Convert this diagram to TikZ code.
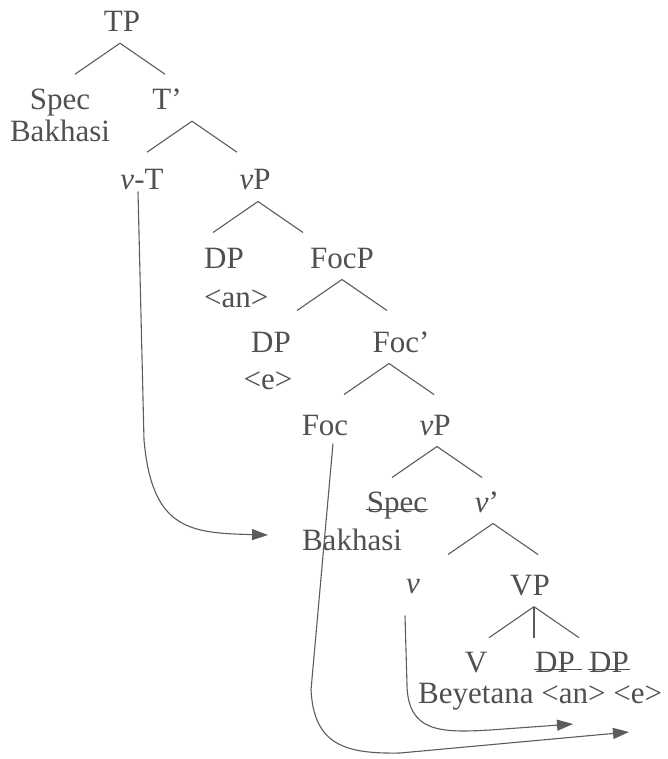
\documentclass[tikz,border=0pt]{standalone}
\usepackage{fontspec}
\setmainfont{Liberation Serif}
\usetikzlibrary{arrows.meta}

\definecolor{ink}{HTML}{505050}
\definecolor{wire}{HTML}{5c5c5c}

\tikzset{
  lbl/.style={anchor=base,inner sep=1pt,text=ink,font=\fontsize{31}{36}\selectfont},
  branch/.style={draw=wire,line width=1.1pt},
  mv/.style={draw=wire,line width=1.1pt,-{Triangle[length=16pt,width=11pt]}},
  struck/.style={draw=ink,line width=1.2pt},
}

% fork of two branches under a node
\newcommand{\fork}[2][0]{%
  \draw[branch] ([xshift=#1pt,yshift=-10pt]#2.south) -- +(-45,31)
                ([xshift=#1pt,yshift=-10pt]#2.south) -- +(45,31);}

\begin{document}
\begin{tikzpicture}[x=1pt,y=-1pt]
  \useasboundingbox (0,0) rectangle (667,759);

  \node[lbl] (TP) at (122,32) {TP};
  \node[lbl] (SpecT) at (60,110) {Spec};
  \node[lbl] (BakT) at (60,142) {Bakhasi};
  \node[lbl] (Tbar) at (167,110) {T’};
  \node[lbl] (vT) at (142,190) {{\itshape v}-T};
  \node[lbl] (vPa) at (255,190) {{\itshape v}P};
  \node[lbl,anchor=base west] (DPan) at (203,268) {DP};
  \node[lbl,anchor=base west] (an) at (203,307) {<an>};
  \node[lbl] (FocP) at (342,268) {FocP};
  \node[lbl] (DPe) at (271,352) {DP};
  \node[lbl] (e) at (268,389) {<e>};
  \node[lbl] (Focbar) at (401,352) {Foc’};
  \node[lbl] (Foc) at (325,435) {Foc};
  \node[lbl] (vPb) at (435,435) {{\itshape v}P};
  \node[lbl] (SpecL) at (397,512) {Spec};
  \node[lbl] (vbar) at (487,512) {{\itshape v}’};
  \node[lbl] (BakL) at (352,550) {Bakhasi};
  \node[lbl] (v) at (413,593) {{\itshape v}};
  \node[lbl] (VP) at (530,595) {VP};
  \node[lbl] (V) at (476,672) {V};
  \node[lbl] (DPx) at (555,672) {DP};
  \node[lbl] (DPy) at (609,672) {DP};
  \node[lbl,anchor=base west] (Bey) at (417,703) {Beyetana <an> <e>};

  % branches
  \fork[-2]{TP}
  \fork[25]{Tbar}
  \fork[3]{vPa}
  \fork{FocP}
  \fork[-12]{Focbar}
  \fork[2]{vPb}
  \fork[6]{vbar}
  \fork[4]{VP}
  \draw[branch] ([xshift=4pt,yshift=-10pt]VP.south) -- +(0,31);

  % deleted copies
  \draw[struck] (SpecL.mid west) -- (SpecL.mid east);
  \draw[struck,shorten >=-6pt] (DPx.mid west) -- (DPx.mid east);
  \draw[struck] (DPy.mid west) -- (DPy.mid east);

  % movement
  \coordinate (landBak) at (268,535);
  \coordinate (landAn) at (573,724);
  \coordinate (landE) at (629,732);
  \draw[mv] ([xshift=-4pt]vT.south) -- (144,440)
    .. controls (152,530) and (190,533) .. (landBak);
  \draw[mv] ([xshift=8pt,yshift=-7pt]Foc.south) -- (311,690)
    .. controls (314,745) and (345,754) .. (400,753) -- (landE);
  \draw[mv] ([xshift=-8pt,yshift=-21pt]v.south) -- (407,685)
    .. controls (408,732) and (440,733) .. (490,730) -- (landAn);
\end{tikzpicture}
\end{document}
